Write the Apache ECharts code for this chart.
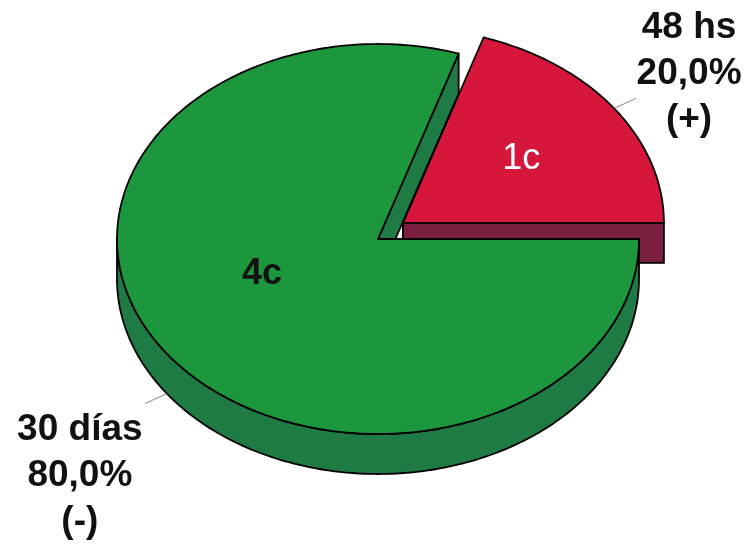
<!DOCTYPE html>
<html>
<head>
<meta charset="utf-8">
<script src="https://cdn.jsdelivr.net/npm/echarts@6/dist/echarts.min.js"></script>
<style>html,body{margin:0;padding:0;background:#fff}#c{width:752px;height:547px}</style>
</head>
<body>
<div id="c"></div>
<script>
// ---- data ----
const categories = ['48 hs', '30 días'];
const counts = [1, 4];
const signs = ['(+)', '(-)'];

// ---- styles / layout ----
const topColors = ['#d6173b', '#1c973e'];
const sideColors = ['#7a1e42', '#1e7b44'];
const innerTextColors = ['#ffffff', '#111111'];
const innerTextWeight = ['normal', 'bold'];
const CX = 378, CY = 239, RX = 261, RY = 195, H = 40;
const explode = [[0.118, 0.14], [0, 0]];

const total = counts.reduce((a, b) => a + b, 0);
const pct = v => (v / total * 100).toFixed(1).replace('.', ',') + '%';

function pt(cx, cy, a, dy) { return [cx + RX * Math.cos(a), cy - RY * Math.sin(a) + (dy || 0)]; }
function arc(cx, cy, a0, a1, dy) {
  const n = Math.max(2, Math.ceil(Math.abs(a1 - a0) / (Math.PI / 180)));
  const p = [];
  for (let i = 0; i <= n; i++) p.push(pt(cx, cy, a0 + (a1 - a0) * i / n, dy));
  return p;
}

const stroke = { stroke: '#000', lineWidth: 1.8, lineJoin: 'round' };

function renderItem(params, api) {
  const i = params.dataIndex;
  const v = api.value(1);
  let before = 0;
  for (let k = 0; k < i; k++) before += counts[k];
  const a0 = before / total * 2 * Math.PI;
  const a1 = (before + v) / total * 2 * Math.PI;
  const mid = (a0 + a1) / 2;
  const cx = CX + explode[i][0] * RX * Math.cos(mid);
  const cy = CY - explode[i][1] * RY * Math.sin(mid);
  const children = [];
  if (Math.cos(a0) > 1e-6) {
    const p = pt(cx, cy, a0);
    children.push({ type: 'polygon', shape: { points: [[cx, cy], p, [p[0], p[1] + H], [cx, cy + H]] },
      style: Object.assign({ fill: sideColors[i] }, stroke) });
  }
  if (Math.cos(a1) < -1e-6) {
    const p = pt(cx, cy, a1);
    children.push({ type: 'polygon', shape: { points: [[cx, cy], p, [p[0], p[1] + H], [cx, cy + H]] },
      style: Object.assign({ fill: sideColors[i] }, stroke) });
  }
  const s = Math.max(a0, Math.PI), e = Math.min(a1, 2 * Math.PI);
  if (e > s) {
    const pts = arc(cx, cy, s, e, 0).concat(arc(cx, cy, e, s, H));
    children.push({ type: 'polygon', shape: { points: pts }, style: Object.assign({ fill: sideColors[i] }, stroke) });
  }
  const topPts = [[cx, cy]].concat(arc(cx, cy, a0, a1, 0));
  children.push({ type: 'polygon', shape: { points: topPts }, style: Object.assign({ fill: topColors[i] }, stroke) });
  const ip = [cx + 0.56 * RX * Math.cos(mid), cy - 0.56 * RY * Math.sin(mid)];
  if (i === 1) { ip[0] = cx - 116; ip[1] = cy + 35; }
  children.push({ type: 'text', x: ip[0], y: ip[1], style: {
    text: v + 'c', fill: innerTextColors[i], font: innerTextWeight[i] + ' 36px "Liberation Sans", Arial, sans-serif',
    align: 'center', verticalAlign: 'middle' } });
  const onSide = Math.sin(mid) < 0;
  const r = pt(cx, cy, mid, onSide ? H : 0);
  const dir = Math.cos(mid) >= 0 ? 1 : -1;
  const end = [r[0] + 22 * dir, r[1] + (onSide ? 10 : -10)];
  children.push({ type: 'line', shape: { x1: r[0], y1: r[1], x2: end[0], y2: end[1] },
    style: { stroke: '#8a8a8a', lineWidth: 1 } });
  const lx = dir > 0 ? end[0] + 53 : end[0] - 65;
  const ly = onSide ? end[1] + 72 : end[1] - 25;
  children.push({ type: 'text', x: lx, y: ly, style: {
    text: categories[i] + '\n' + pct(v) + '\n' + signs[i], fill: '#111',
    font: 'bold 37px "Liberation Sans", Arial, sans-serif', lineHeight: 46,
    align: 'center', verticalAlign: 'middle' } });
  return { type: 'group', children: children };
}

const chart = echarts.init(document.getElementById('c'), null, { renderer: 'canvas' });
chart.setOption({
  backgroundColor: '#ffffff',
  animation: false,
  series: [{
    type: 'custom',
    coordinateSystem: 'none',
    renderItem: renderItem,
    data: categories.map((c, i) => [c, counts[i]])
  }]
});
</script>
</body>
</html>
